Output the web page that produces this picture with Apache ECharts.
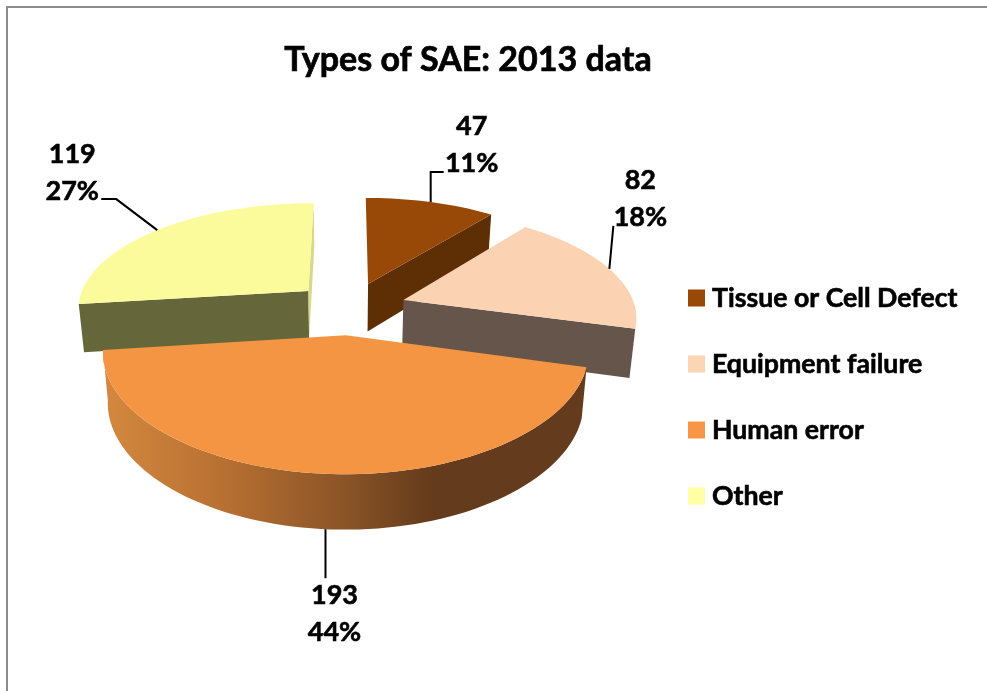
<!DOCTYPE html>
<html>
<head>
<meta charset="utf-8">
<title>Types of SAE: 2013 data</title>
<script src="https://cdn.jsdelivr.net/npm/echarts@6/dist/echarts.min.js"></script>
<style>
  html, body { margin: 0; padding: 0; background: #fff; }
  #chart { width: 987px; height: 691px; }
</style>
</head>
<body>
<div id="chart"></div>
<script>
var categories = ['Tissue or Cell Defect', 'Equipment failure', 'Human error', 'Other'];
var values = [47, 82, 193, 119];
var percentLabels = ['11%', '18%', '44%', '27%'];

var fontName = 'Lato, "Open Sans", sans-serif';
var topColors = ['#984807', '#fbd3b3', '#f49543', '#fbfb9b'];
var legendColors = ['#984807', '#fcd5b5', '#f79646', '#ffffa3'];
// side faces of each slice, null when the camera can't see them
var startFace = [null, null, null, '#66663b'];
var endFace = ['#5e2e04', '#66554a', null, '#d8d88a'];

// camera: flat disc seen from above, a bit of perspective
var cam = { cx: 350, cy: 308, R: 232, tiltR: 107, pxBack: 0.15, pxFront: 0.14, py: 0.16, explode: 0.245, depth: 48.5, shrink: 0.98 };

// leader line and label, offset from the rim point of each slice
var leaders = [
  [[0, -30], [13, -30]],
  [[4, -43]],
  [[0, 49]],
  [[-41, -31], [-56, -31]]
];
var labelOffsets = [[41, -57], [31, -70], [9, 85], [-85, -57]];
var labelGap = 37;

var total = values.reduce(function (a, b) { return a + b; }, 0);
var angles = [];
(function () {
  var a = 0;
  values.forEach(function (v) {
    angles.push([a, a + v / total * 360]);
    a += v / total * 360;
  });
})();

function rad(d) { return d * Math.PI / 180; }

// u right, v away from viewer, in radius units
function project(u, v) {
  var px = v > 0 ? cam.pxBack : cam.pxFront;
  return [
    cam.cx + u * cam.R / (1 + px * v),
    cam.cy - v * cam.tiltR / (1 + cam.py * v)
  ];
}
function depthOf(v) { return cam.depth / (1 + 0.1 * v); }
function lower(p, v) {
  return [cam.cx - 6 + (p[0] - cam.cx + 6) * cam.shrink, p[1] + depthOf(v)];
}

function sliceOffset(i) {
  var mid = rad((angles[i][0] + angles[i][1]) / 2);
  return [Math.sin(mid) * cam.explode, Math.cos(mid) * cam.explode];
}
function rimPoint(i, deg, r) {
  var o = sliceOffset(i);
  var v = o[1] + Math.cos(rad(deg)) * r;
  return { p: project(o[0] + Math.sin(rad(deg)) * r, v), v: v };
}
function face(i, deg) {
  var a = rimPoint(i, deg, 0);
  var b = rimPoint(i, deg, 1);
  return [a.p, b.p, lower(b.p, b.v), lower(a.p, a.v)];
}

function renderSlice(params) {
  var i = params.seriesIndex;
  var from = angles[i][0];
  var to = angles[i][1];
  var steps = Math.ceil((to - from) / 2);
  var rim = [];
  for (var k = 0; k <= steps; k++) {
    rim.push(rimPoint(i, from + (to - from) * k / steps, 1));
  }
  var children = [];

  // outer wall, only the front slice shows it
  if (i === 2) {
    var upper = rim.map(function (r) { return r.p; });
    var under = rim.map(function (r) { return lower(r.p, r.v); }).reverse();
    children.push({
      type: 'polygon',
      shape: { points: upper.concat(under) },
      style: {
        fill: new echarts.graphic.LinearGradient(0, 0, 1, 0, [
          { offset: 0, color: '#d4883f' },
          { offset: 0.25, color: '#b87032' },
          { offset: 0.5, color: '#8a5427' },
          { offset: 0.68, color: '#643b1c' },
          { offset: 1, color: '#643b1c' }
        ])
      }
    });
  }
  if (startFace[i]) {
    children.push({ type: 'polygon', shape: { points: face(i, from) }, style: { fill: startFace[i] } });
  }
  if (endFace[i]) {
    children.push({ type: 'polygon', shape: { points: face(i, to) }, style: { fill: endFace[i] } });
  }

  var apex = rimPoint(i, from, 0).p;
  children.push({
    type: 'polygon',
    shape: { points: [apex].concat(rim.map(function (r) { return r.p; })) },
    style: { fill: topColors[i] }
  });

  // leader line starts on the rim at the middle of the slice
  var anchor = rimPoint(i, (from + to) / 2, 1);
  var start = i === 2 ? lower(anchor.p, anchor.v) : anchor.p;
  var line = [start].concat(leaders[i].map(function (o) { return [start[0] + o[0], start[1] + o[1]]; }));
  children.push({
    type: 'polyline',
    shape: { points: line },
    style: { stroke: '#000', lineWidth: 2, fill: null }
  });

  var lx = start[0] + labelOffsets[i][0];
  var ly = start[1] + labelOffsets[i][1];
  [String(values[i]), percentLabels[i]].forEach(function (txt, n) {
    children.push({
      type: 'text',
      style: {
        text: txt,
        x: lx,
        y: ly + (n - 0.5) * labelGap,
        align: 'center',
        verticalAlign: 'middle',
        fill: '#000',
        stroke: '#000',
        lineWidth: 0.6,
        font: 'bold 27px ' + fontName
      }
    });
  });

  return { type: 'group', children: children };
}

var zOrder = [2, 3, 4, 2];
var series = categories.map(function (name, i) {
  return {
    type: 'custom',
    name: name,
    coordinateSystem: 'none',
    z: zOrder[i],
    silent: true,
    animation: false,
    itemStyle: { color: legendColors[i] },
    data: [values[i]],
    renderItem: renderSlice
  };
});

var myChart = echarts.init(document.getElementById('chart'));
var option = {
  animation: false,
  backgroundColor: '#fff',
  title: {
    text: 'Types of SAE: 2013 data',
    left: 463,
    top: 38,
    textAlign: 'center',
    textStyle: { color: '#000', fontFamily: fontName, fontWeight: 'bold', fontSize: 34, textBorderColor: '#000', textBorderWidth: 0.7 }
  },
  legend: {
    orient: 'vertical',
    left: 688,
    top: 282,
    padding: 0,
    itemWidth: 17,
    itemHeight: 17,
    itemGap: 34,
    icon: 'rect',
    selectedMode: false,
    data: categories,
    textStyle: { color: '#000', fontFamily: fontName, fontWeight: 'bold', fontSize: 26.7, padding: [0, 0, 0, 2], lineHeight: 32, textBorderColor: '#000', textBorderWidth: 0.6 }
  },
  graphic: [{
    type: 'rect',
    shape: { x: 7, y: 7, width: 1000, height: 720 },
    style: { fill: 'none', stroke: '#8c8c8c', lineWidth: 2 },
    silent: true,
    z: 0
  }],
  series: series
};
myChart.setOption(option);
</script>
</body>
</html>
